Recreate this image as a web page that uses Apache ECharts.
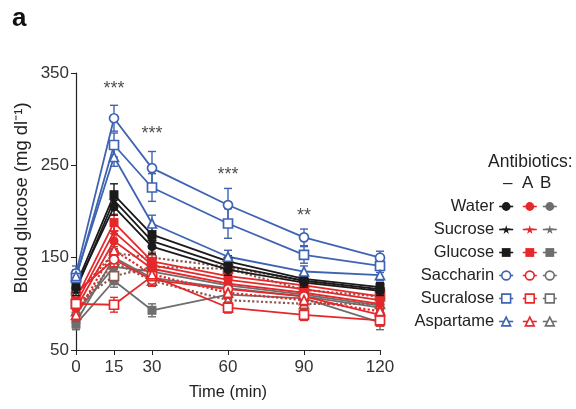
<!DOCTYPE html>
<html><head><meta charset="utf-8">
<script src="https://cdn.jsdelivr.net/npm/echarts@6/dist/echarts.min.js"></script>
<style>html,body{margin:0;padding:0;background:#fff}#c{width:576px;height:409px}</style>
</head><body><div id="c"></div>
<script>
// ---- data ----
const times = [0, 15, 30, 60, 90, 120];
const xTicks = [0, 15, 30, 60, 90, 120];
const treatments = ['Water', 'Sucrose', 'Glucose', 'Saccharin', 'Sucralose', 'Aspartame'];

// no antibiotics
const water0     = [118, 205, 162, 137, 123, 114];
const sucrose0   = [115, 212, 168, 141, 125, 116];
const glucose0   = [120, 218, 175, 146, 127, 118];
const saccharin0 = [133, 301, 247, 207, 172, 150];
const sucralose0 = [128, 272, 226, 187, 153, 141];
const aspartame0 = [130, 259, 187, 151, 135, 131];
const water0Err     = [6, 9, 8, 6, 5, 5];
const sucrose0Err   = [6, 10, 8, 6, 5, 5];
const glucose0Err   = [6, 12, 9, 6, 5, 5];
const saccharin0Err = [8, 14, 18, 18, 9, 7];
const sucralose0Err = [8, 13, 15, 16, 9, 7];
const aspartame0Err = [7, 10, 9, 7, 6, 6];

// antibiotics A
const waterA     = [95, 168, 138, 122, 112, 100];
const sucroseA   = [100, 178, 142, 126, 116, 104];
const glucoseA   = [105, 188, 146, 130, 120, 108];
const saccharinA = [112, 148, 126, 116, 108, 88];
const sucraloseA = [100, 99, 130, 96, 88, 82];
const aspartameA = [88, 158, 132, 112, 104, 92];
const waterAErr     = [7, 8, 7, 6, 6, 6];
const sucroseAErr   = [7, 8, 7, 6, 6, 6];
const glucoseAErr   = [7, 9, 7, 6, 6, 6];
const saccharinAErr = [7, 8, 7, 6, 6, 6];
const sucraloseAErr = [7, 8, 7, 6, 6, 6];
const aspartameAErr = [7, 8, 7, 6, 6, 6];

// antibiotics B
const waterB     = [80, 150, 128, 117, 108, 96];
const sucroseB   = [90, 140, 135, 120, 110, 98];
const glucoseB   = [78, 125, 93, 110, 106, 80];
const saccharinB = [110, 155, 150, 140, 125, 115];
const sucraloseB = [100, 130, 140, 138, 115, 108];
const aspartameB = [92, 145, 125, 104, 100, 100];
const waterBErr     = [6, 7, 6, 5, 5, 5];
const sucroseBErr   = [6, 7, 6, 5, 5, 5];
const glucoseBErr   = [6, 7, 7, 5, 5, 8];
const saccharinBErr = [6, 7, 6, 5, 5, 5];
const sucraloseBErr = [6, 7, 6, 5, 5, 5];
const aspartameBErr = [6, 7, 6, 5, 5, 5];

// significance marks
const sigTimes  = [15, 30, 60, 90];
const sigValues = [333, 284, 240, 195];
const sigLabels = ['***', '***', '***', '**'];

// ---- styling ----
const BLUE = '#3f63b3', BLACK = '#1a1a1a', RED = '#e5282a', GREY = '#6e6e6e';
const STAR = 'path://M50,0 L61,35 L98,35 L68,57 L79,91 L50,70 L21,91 L32,57 L2,35 L39,35 Z';
const symbols = ['circle', STAR, 'rect', 'circle', 'rect', 'triangle'];
const filled = [true, true, true, false, false, false];

const groups = [
  {suffix: '', vals: [water0, sucrose0, glucose0, saccharin0, sucralose0, aspartame0],
   errs: [water0Err, sucrose0Err, glucose0Err, saccharin0Err, sucralose0Err, aspartame0Err],
   colors: [BLACK, BLACK, BLACK, BLUE, BLUE, BLUE], dash: ['solid','solid','solid','solid','solid','solid'], z: 5},
  {suffix: ' A', vals: [waterA, sucroseA, glucoseA, saccharinA, sucraloseA, aspartameA],
   errs: [waterAErr, sucroseAErr, glucoseAErr, saccharinAErr, sucraloseAErr, aspartameAErr],
   colors: [RED, RED, RED, RED, RED, RED], dash: ['solid','solid','solid','solid','solid','dotted'], z: 4},
  {suffix: ' B', vals: [waterB, sucroseB, glucoseB, saccharinB, sucraloseB, aspartameB],
   errs: [waterBErr, sucroseBErr, glucoseBErr, saccharinBErr, sucraloseBErr, aspartameBErr],
   colors: [GREY, GREY, GREY, '#8a5a50', '#8a5a50', '#8a5a50'], dash: ['solid','solid','solid','dotted','dotted','dotted'], z: 3}
];
const legendColors = [[BLACK, BLACK, BLACK, BLUE, BLUE, BLUE], [RED, RED, RED, RED, RED, RED], [GREY, GREY, GREY, GREY, GREY, GREY]];

const series = [];
const order = [2, 1, 0];
order.forEach(gi => {
  const g = groups[gi];
  treatments.forEach((t, i) => {
    const col = g.colors[i];
    const data = times.map((x, k) => [x, g.vals[i][k], g.errs[i][k]]);
    series.push({
      type: 'custom', name: t + g.suffix + ' err', silent: true, z: g.z,
      data: data,
      renderItem: function (params, api) {
        const x = api.value(0), y = api.value(1), e = api.value(2);
        const top = api.coord([x, y + e]), bot = api.coord([x, y - e]);
        const w = 4;
        return {type: 'group', children: [
          {type: 'line', shape: {x1: top[0], y1: top[1], x2: bot[0], y2: bot[1]}, style: {stroke: col, lineWidth: 1.4}},
          {type: 'line', shape: {x1: top[0]-w, y1: top[1], x2: top[0]+w, y2: top[1]}, style: {stroke: col, lineWidth: 1.4}},
          {type: 'line', shape: {x1: bot[0]-w, y1: bot[1], x2: bot[0]+w, y2: bot[1]}, style: {stroke: col, lineWidth: 1.4}}
        ]};
      }
    });
    series.push({
      type: 'line', name: t + g.suffix, z: g.z + 0.5,
      data: times.map((x, k) => [x, g.vals[i][k]]),
      symbol: symbols[i], symbolSize: i === 1 ? 11 : 9,
      showAllSymbol: true,
      lineStyle: {color: col, width: g.dash[i] === 'dotted' ? 2.2 : 1.8, type: g.dash[i]},
      itemStyle: {color: filled[i] ? col : '#fff', borderColor: col, borderWidth: filled[i] ? 0 : 1.7},
      emphasis: {disabled: true}
    });
  });
});

series.push({
  type: 'scatter', name: 'sig', symbolSize: 0, z: 10, silent: true,
  data: sigTimes.map((x, k) => ({value: [x, sigValues[k]], name: sigLabels[k]})),
  label: {show: true, position: 'inside', formatter: p => p.name, fontSize: 18, color: '#222', fontFamily: 'Liberation Sans'}
});

const legendBase = {
  orient: 'vertical', top: 193, itemWidth: 14, itemHeight: 11, itemGap: 6,
  selectedMode: false,
  textStyle: {fontSize: 16.5, lineHeight: 16, color: '#222', fontFamily: 'Liberation Sans'}
};
function legendData(gi, suffix) {
  return treatments.map((t, i) => ({
    name: t + suffix,
    itemStyle: {color: filled[i] ? legendColors[gi][i] : '#fff', borderColor: legendColors[gi][i], borderWidth: filled[i] ? 0 : 1.6},
    lineStyle: {color: legendColors[gi][i], width: 1.6, type: 'solid'}
  }));
}

const option = {
  animation: false,
  textStyle: {fontFamily: 'Liberation Sans'},
  grid: {left: 76, right: 196, top: 73, bottom: 59},
  xAxis: {
    type: 'value', min: 0, max: 120,
    name: 'Time (min)', nameLocation: 'middle', nameGap: 34,
    nameTextStyle: {fontSize: 16.5, color: '#222'},
    axisLine: {lineStyle: {color: '#222', width: 1.2}},
    axisTick: {show: true, customValues: xTicks, length: 5, lineStyle: {color: '#222'}},
    axisLabel: {customValues: xTicks, fontSize: 17, color: '#333', margin: 9},
    splitLine: {show: false}
  },
  yAxis: {
    type: 'value', min: 50, max: 350, interval: 100,
    axisLine: {show: true, lineStyle: {color: '#222', width: 1.2}},
    axisTick: {show: true, length: 5, lineStyle: {color: '#222'}},
    axisLabel: {fontSize: 17, color: '#333', margin: 7},
    splitLine: {show: false}
  },
  legend: [
    Object.assign({}, legendBase, {right: 57, align: 'right', data: legendData(0, '')}),
    Object.assign({}, legendBase, {left: 517, align: 'left', data: legendData(1, ' A'), formatter: () => ' '}),
    Object.assign({}, legendBase, {left: 537, align: 'left', data: legendData(2, ' B'), formatter: () => ' '})
  ],
  graphic: [
    {type: 'text', left: 12, top: 6, style: {text: 'a', font: 'bold 26px Liberation Sans', fill: '#111'}},
    {type: 'text', x: 22, y: 198, rotation: Math.PI / 2,
     style: {text: 'Blood glucose (mg dl\u207B\u00B9)', font: '18.5px Liberation Sans', fill: '#222', align: 'center', verticalAlign: 'middle'}},
    {type: 'text', left: 488, top: 153, style: {text: 'Antibiotics:', font: '17.5px Liberation Sans', fill: '#222'}},
    {type: 'text', left: 503, top: 175, style: {text: '\u2013', font: '17px Liberation Sans', fill: '#222'}},
    {type: 'text', left: 522, top: 175, style: {text: 'A', font: '17px Liberation Sans', fill: '#222'}},
    {type: 'text', left: 540, top: 175, style: {text: 'B', font: '17px Liberation Sans', fill: '#222'}}
  ],
  series: series
};
const chart = echarts.init(document.getElementById('c'), null, {renderer: 'canvas'});
chart.setOption(option);
</script>
</body></html>
